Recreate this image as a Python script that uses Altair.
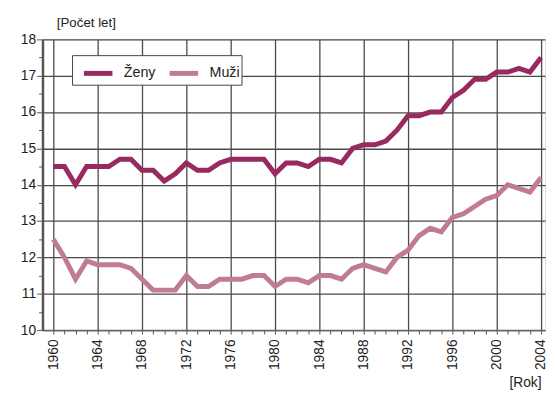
import altair as alt
import pandas as pd

years = list(range(1960, 2005))
zeny = [14.5, 14.5, 14.0, 14.5, 14.5, 14.5, 14.7, 14.7, 14.4, 14.4,
        14.1, 14.3, 14.6, 14.4, 14.4, 14.6, 14.7, 14.7, 14.7, 14.7,
        14.3, 14.6, 14.6, 14.5, 14.7, 14.7, 14.6, 15.0, 15.1, 15.1,
        15.2, 15.5, 15.9, 15.9, 16.0, 16.0, 16.4, 16.6, 16.9, 16.9,
        17.1, 17.1, 17.2, 17.1, 17.5]
muzi = [12.5, 12.0, 11.4, 11.9, 11.8, 11.8, 11.8, 11.7, 11.4, 11.1,
        11.1, 11.1, 11.5, 11.2, 11.2, 11.4, 11.4, 11.4, 11.5, 11.5,
        11.2, 11.4, 11.4, 11.3, 11.5, 11.5, 11.4, 11.7, 11.8, 11.7,
        11.6, 12.0, 12.2, 12.6, 12.8, 12.7, 13.1, 13.2, 13.4, 13.6,
        13.7, 14.0, 13.9, 13.8, 14.2]
series_names = ["Ženy", "Muži"]
series_colors = ["#982a5f", "#c07d91"]

rows = []
for y, a, b in zip(years, zeny, muzi):
    rows.append({"Rok": y, "Hodnota": a, "Pohlaví": series_names[0]})
    rows.append({"Rok": y, "Hodnota": b, "Pohlaví": series_names[1]})
df = pd.DataFrame(rows)

FONT = "Liberation Sans, Arial, sans-serif"
GRID = "#4a4a4a"

y_vals = [10 + 0.5 * i for i in range(17)]

chart = alt.Chart(df).mark_line(strokeWidth=5, strokeJoin="miter").encode(
    x=alt.X("Rok:Q",
            scale=alt.Scale(domain=[1959.02, 2004.36], nice=False, zero=False),
            axis=alt.Axis(values=years, title="[Rok]",
                          labelExpr="datum.value % 4 === 0 ? datum.value : ''",
                          labelAngle=-90, labelAlign="right", labelBaseline="middle",
                          labelFontSize=14, labelColor="#222", labelPadding=5,
                          labelFont=FONT, labelOverlap=False,
                          tickSize=4, tickColor="#555", tickWidth=1,
                          domainColor="#666", domainWidth=1.5,
                          gridColor={"condition": {"test": "datum.value % 4 === 0", "value": GRID},
                                     "value": "transparent"},
                          gridWidth=1.3,
                          titleFont=FONT, titleFontSize=14, titleFontWeight="normal",
                          titleColor="#222", titleAlign="right", titleAnchor="end",
                          titleX=506, titleY=57, titleBaseline="alphabetic")),
    y=alt.Y("Hodnota:Q",
            scale=alt.Scale(domain=[10, 18], nice=False, zero=False),
            axis=alt.Axis(values=y_vals, title="[Počet let]",
                          labelExpr="datum.value % 1 === 0 ? datum.value : ''",
                          labelFontSize=14, labelColor="#222", labelPadding=1,
                          labelFont=FONT,
                          tickSize={"condition": {"test": "datum.value % 1 === 0", "value": 6},
                                    "value": 4},
                          tickColor="#555", tickWidth=1,
                          domainColor="#555", domainWidth=2.5,
                          gridColor={"condition": {"test": "datum.value % 1 === 0", "value": GRID},
                                     "value": "transparent"},
                          gridWidth=1.3,
                          titleFont=FONT, titleFontSize=13.5, titleFontWeight="normal",
                          titleColor="#222", titleAngle=0, titleAlign="left",
                          titleX=14, titleY=-13, titleBaseline="alphabetic")),
    color=alt.Color("Pohlaví:N",
                    scale=alt.Scale(domain=series_names, range=series_colors),
                    sort=series_names,
                    legend=alt.Legend(title=None, orient="none", legendX=30, legendY=16,
                                      direction="horizontal", columns=2,
                                      symbolType="stroke", symbolStrokeWidth=5,
                                      symbolSize=841, symbolOffset=8,
                                      labelFontSize=14.5, labelFont=FONT,
                                      labelColor="#222", fillColor="white",
                                      strokeColor="#444", padding=1.5,
                                      columnPadding=3, labelOffset=9)),
).properties(
    width=510, height=295,
    padding={"left": 35, "top": 29, "right": 2, "bottom": 60},
    autosize=alt.AutoSizeParams(type="none"),
).configure_view(
    fill="#e6e7e9", stroke="#777", strokeWidth=1
).configure(background="white")

chart.save("out.html", embed_options={"renderer": "svg", "actions": False})
